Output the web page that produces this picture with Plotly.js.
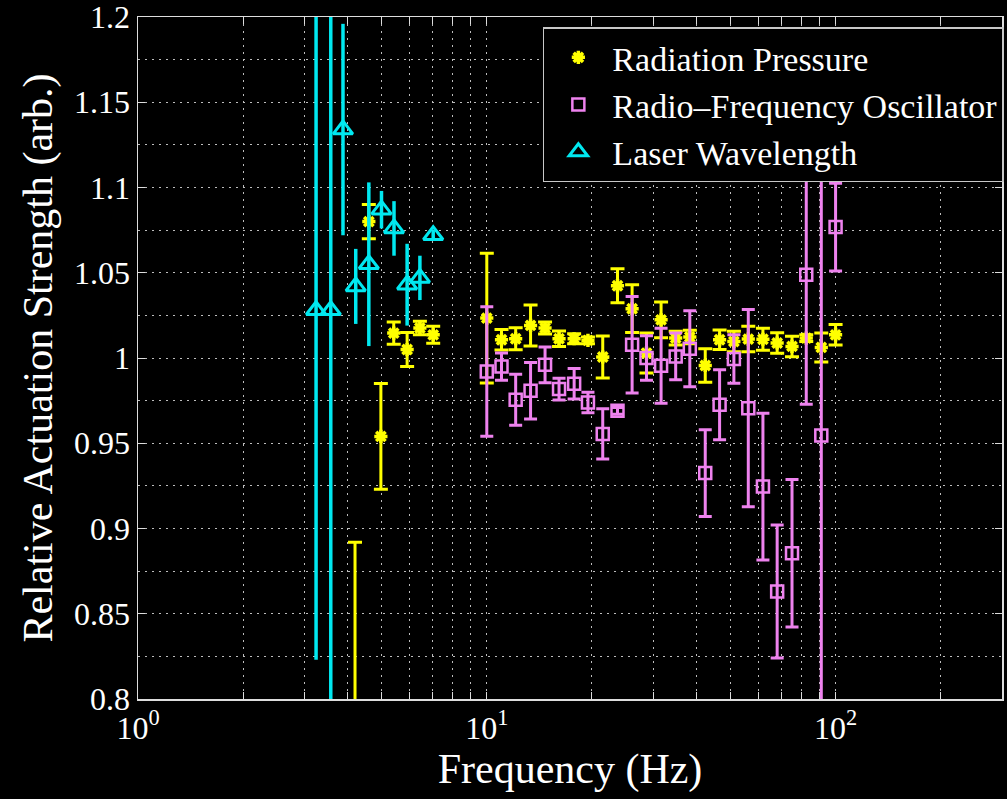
<!DOCTYPE html>
<html>
<head>
<meta charset="utf-8">
<script src="https://cdn.plot.ly/plotly-3.0.1.min.js"></script>
<style>html,body{margin:0;padding:0;background:#000;}#chart{width:1007px;height:799px;}</style>
</head>
<body>
<div id="chart"></div>
<script>
// Radiation Pressure
var rpFreq = [4.19, 4.59, 4.97, 5.41, 5.91, 6.43, 7.02, 10.0, 11.02, 12.1, 13.35, 14.69, 16.11, 17.8, 19.5, 21.5, 23.7, 26.1, 28.7, 31.6, 34.8, 38.2, 42.3, 46.5, 51.1, 56.2, 61.9, 68.0, 75.0, 82.4, 91.0, 100.0];
var rpVal = [0.785, 1.080, 0.954, 1.0146, 1.005, 1.0176, 1.0136, 1.0234, 1.0107, 1.0113, 1.0191, 1.0176, 1.0113, 1.0113, 1.0103, 1.0006, 1.0424, 1.0289, 1.0029, 1.0224, 1.0117, 1.0123, 0.9956, 1.0107, 1.0097, 1.0111, 1.011, 1.0088, 1.0068, 1.0117, 1.0062, 1.0136];
var rpErr = [0.107, 0.010, 0.031, 0.0065, 0.010, 0.004, 0.005, 0.038, 0.006, 0.0065, 0.012, 0.0035, 0.0046, 0.003, 0.002, 0.0123, 0.010, 0.014, 0.0117, 0.0105, 0.004, 0.004, 0.0098, 0.0057, 0.006, 0.0075, 0.0065, 0.006, 0.006, 0.002, 0.0085, 0.006];

// Radio-Frequency Oscillator
var rfFreq = [10.0, 11.02, 12.1, 13.35, 14.69, 16.11, 17.8, 19.5, 21.5, 23.7, 26.1, 28.7, 31.6, 34.8, 38.2, 42.3, 46.5, 51.1, 56.2, 61.9, 68.0, 75.0, 82.4, 91.0, 100.0];
var rfVal = [0.9921, 0.995, 0.9755, 0.9808, 0.996, 0.9818, 0.9849, 0.9739, 0.9555, 0.969, 1.0078, 1.0, 0.9955, 1.0009, 1.0054, 0.9325, 0.9726, 0.9994, 0.9706, 0.9246, 0.863, 0.8855, 1.0489, 0.9545, 1.0768];
var rfErr = [0.038, 0.008, 0.015, 0.0166, 0.0105, 0.0064, 0.009, 0.006, 0.0147, 0.002, 0.0283, 0.013, 0.022, 0.0137, 0.0223, 0.0254, 0.0205, 0.0142, 0.0579, 0.043, 0.039, 0.0432, 0.076, 0.1555, 0.0257];

// Laser Wavelength
var lwFreq = [3.24, 3.57, 3.87, 4.21, 4.59, 4.99, 5.42, 5.91, 6.43, 7.02];
var lwVal = [1.028, 1.028, 1.134, 1.042, 1.055, 1.087, 1.076, 1.043, 1.047, 1.072];
var lwErr = [0.205, 0.3, 0.062, 0.022, 0.048, 0.011, 0.016, 0.024, 0.013, 0.003];

var seriesNames = ["Radiation Pressure", "Radio\u2013Frequency Oscillator", "Laser Wavelength"];
var xTickVals = [1, 10, 100];
var xTickText = ["10<sup>0</sup>", "10<sup>1</sup>", "10<sup>2</sup>"];
var xMinorVals = [2, 3, 4, 5, 6, 7, 8, 9, 20, 30, 40, 50, 60, 70, 80, 90, 200, 300];
var yTickVals = [0.8, 0.85, 0.9, 0.95, 1, 1.05, 1.1, 1.15, 1.2];
var yTickText = ["0.8", "0.85", "0.9", "0.95", "1", "1.05", "1.1", "1.15", "1.2"];

var FONT = "Liberation Serif, Times New Roman, serif";
var YEL = "#ffff00", PINK = "#ee82ee", CYAN = "#00e8f0";
var GRID = "#bdbdbd", GDASH = "2px,5px";

var traces = [
  {
    x: rpFreq, y: rpVal, name: seriesNames[0], type: "scatter", mode: "markers",
    marker: {symbol: "asterisk-open", size: 11, color: YEL, line: {color: YEL, width: 3.5}},
    error_y: {type: "data", array: rpErr, visible: true, color: YEL, thickness: 3, width: 7}
  },
  {
    x: rfFreq, y: rfVal, name: seriesNames[1], type: "scatter", mode: "markers",
    marker: {symbol: "square-open", size: 12, color: PINK, line: {color: PINK, width: 2.5}},
    error_y: {type: "data", array: rfErr, visible: true, color: PINK, thickness: 3, width: 6.5}
  },
  {
    x: lwFreq, y: lwVal, name: seriesNames[2], type: "scatter", mode: "markers",
    marker: {symbol: "triangle-up-open", size: 17, color: CYAN, line: {color: CYAN, width: 3}},
    error_y: {type: "data", array: lwErr, visible: true, color: CYAN, thickness: 3.5, width: 0}
  }
];

var layout = {
  width: 1007, height: 799,
  paper_bgcolor: "#000", plot_bgcolor: "#000",
  margin: {l: 138, r: 4, t: 17, b: 100},
  font: {family: FONT, color: "#fff", size: 32},
  showlegend: true,
  legend: {
    x: 1.001, xanchor: "right", y: 0.985, yanchor: "top",
    bgcolor: "#000", bordercolor: "#c8c8c8", borderwidth: 1.5,
    font: {family: FONT, size: 34, color: "#fff"},
    itemwidth: 58,
    tracegroupgap: 0
  },
  xaxis: {
    type: "log", range: [0, Math.log10(300)],
    tickmode: "array", tickvals: xTickVals, ticktext: xTickText,
    ticks: "inside", ticklen: 7, tickcolor: "#ddd", tickwidth: 1,
    showline: true, linecolor: "#ddd", linewidth: 1.5, mirror: "ticks",
    showgrid: true, gridcolor: GRID, gridwidth: 1, griddash: GDASH,
    minor: {tickmode: "array", tickvals: xMinorVals, ticks: "inside", ticklen: 7, tickcolor: "#ddd", tickwidth: 1,
            showgrid: true, gridcolor: GRID, gridwidth: 1, griddash: GDASH},
    zeroline: false,
    tickfont: {family: FONT, size: 32, color: "#fff"},
    title: {text: "Frequency (Hz)", font: {family: FONT, size: 42, color: "#fff"}, standoff: 6}
  },
  yaxis: {
    range: [0.8, 1.20001],
    tickmode: "array", tickvals: yTickVals, ticktext: yTickText,
    ticklabeloverflow: "allow",
    ticks: "inside", ticklen: 7, tickcolor: "#ddd", tickwidth: 1,
    showline: true, linecolor: "#ddd", linewidth: 1.5, mirror: "ticks",
    showgrid: true, gridcolor: GRID, gridwidth: 1, griddash: GDASH,
    minor: {dtick: 0.025, tick0: 0.8, showgrid: true, gridcolor: GRID, gridwidth: 1, griddash: GDASH, ticks: ""},
    zeroline: false,
    tickfont: {family: FONT, size: 32, color: "#fff"},
    title: {text: "Relative Actuation Strength (arb.)", font: {family: FONT, size: 42, color: "#fff"}, standoff: 8}
  }
};

Plotly.newPlot("chart", traces, layout, {displayModeBar: false, staticPlot: true});
</script>
</body>
</html>
